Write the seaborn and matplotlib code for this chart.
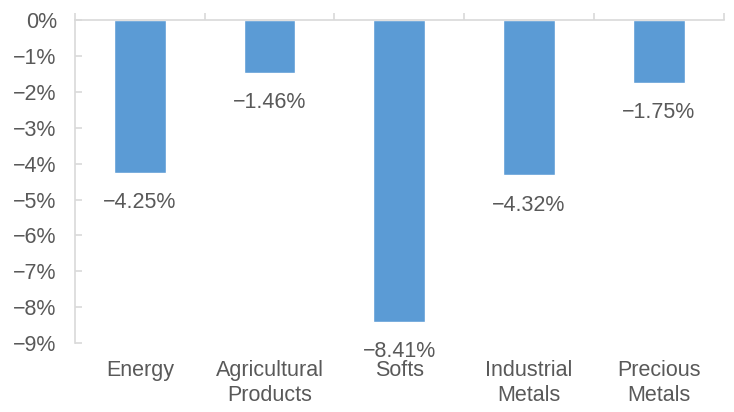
import matplotlib
matplotlib.use("Agg")
import matplotlib.pyplot as plt
import seaborn as sns
import pandas as pd
from matplotlib.ticker import FuncFormatter, FixedLocator

categories = ["Energy", "Agricultural\nProducts", "Softs", "Industrial\nMetals", "Precious\nMetals"]
values = [-4.25, -1.46, -8.41, -4.32, -1.75]
y_ticks = list(range(0, -10, -1))

sns.set_theme(style="white")
plt.rcParams['font.family'] = ['Liberation Sans', 'DejaVu Sans']

text_color = "#595959"
grid_color = "#D9D9D9"
bar_color = "#5B9BD5"

fig = plt.figure(figsize=(7.34, 4.12), dpi=100)
ax = fig.add_axes([0.102, 0.1675, 0.884, 0.7835])

df = pd.DataFrame({"cat": categories, "val": values})
sns.barplot(data=df, x="cat", y="val", color=bar_color, width=0.40, ax=ax, saturation=1)

ax.set_ylim(-9, 0)
ax.set_xlim(-0.5, len(categories) - 0.5)
ax.set_xlabel("")
ax.set_ylabel("")

ax.yaxis.set_major_locator(FixedLocator(y_ticks))
ax.yaxis.set_major_formatter(FuncFormatter(lambda v, p: f"{v:.0f}%".replace("-", "\u2212")))

for s in ["right", "bottom"]:
    ax.spines[s].set_visible(False)
for s in ["left", "top"]:
    ax.spines[s].set_color(grid_color)
    ax.spines[s].set_linewidth(1.2)

ax.tick_params(axis="y", which="major", left=True, length=5, width=1.2, color=grid_color,
               direction="in", labelsize=15.5, labelcolor=text_color, pad=13)
ax.tick_params(axis="x", which="major", bottom=False, top=False, length=0,
               labelsize=15.5, labelcolor=text_color, pad=12)
ax.set_xticks(range(len(categories)))
ax.set_xticklabels(categories, linespacing=1.25)
ax.xaxis.set_minor_locator(FixedLocator([i - 0.5 for i in range(len(categories) + 1)]))
ax.tick_params(axis="x", which="minor", bottom=False, top=True, length=5, width=1.2,
               color=grid_color, direction="out")

for i, v in enumerate(values):
    ax.annotate(f"{v:.2f}%".replace("-", "\u2212"), xy=(i, v), xytext=(0, -14),
                textcoords="offset points", ha="center", va="top",
                fontsize=15.5, color=text_color)

fig.savefig("out.png", dpi=100)
